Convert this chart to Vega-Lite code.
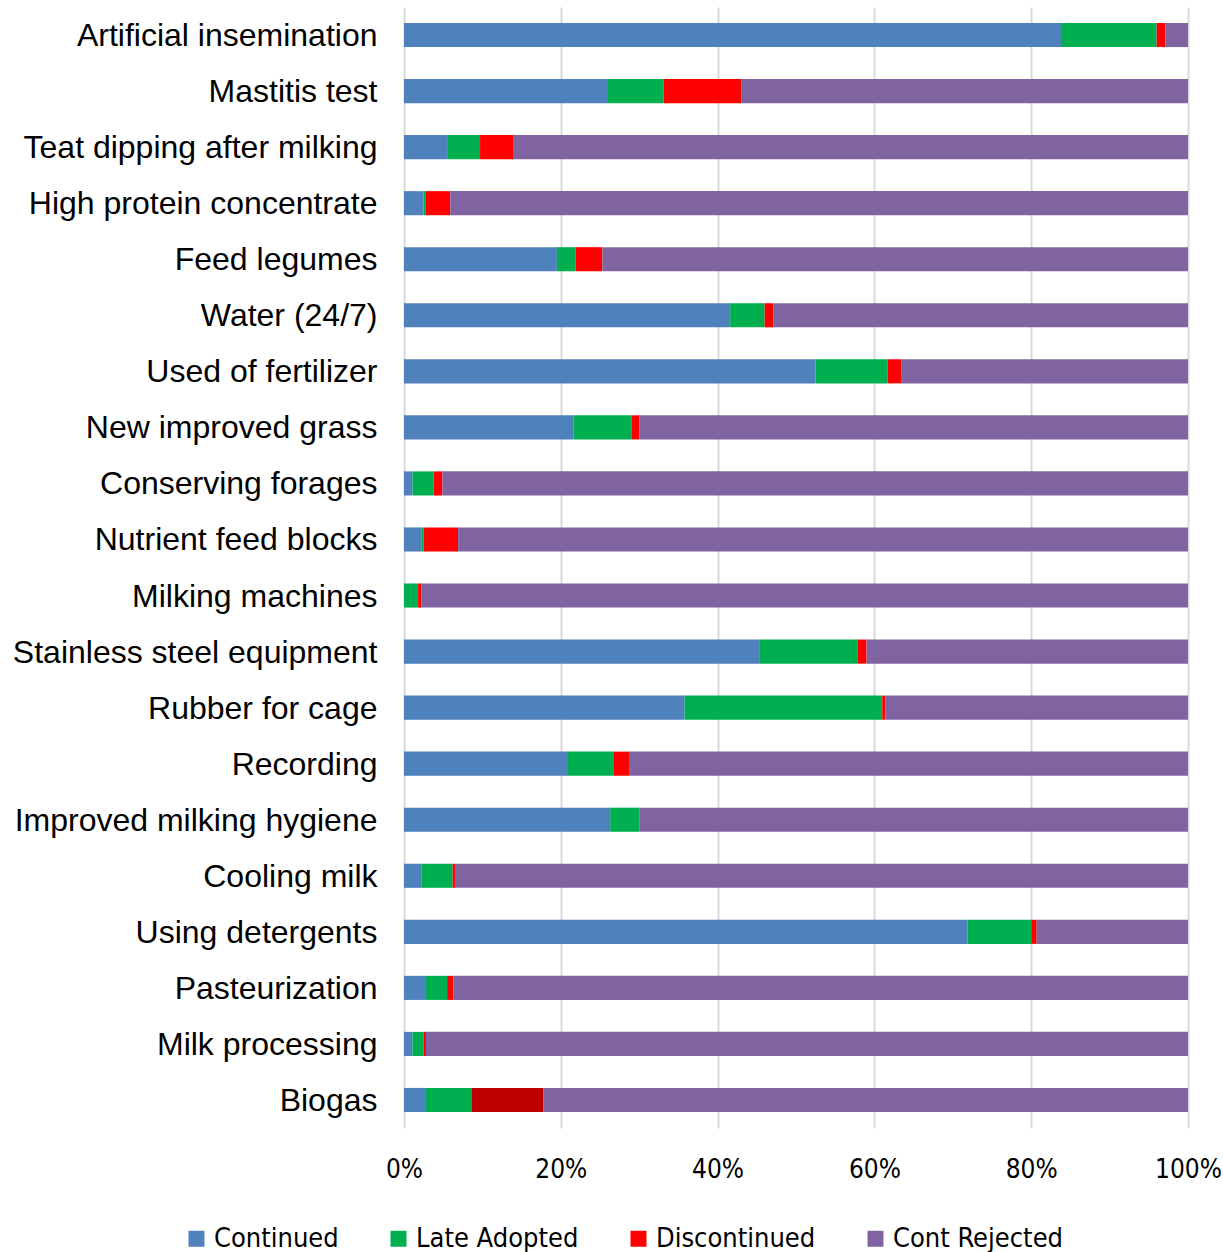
{
  "$schema": "https://vega.github.io/schema/vega-lite/v6.json",
  "width": 784,
  "height": 1121,
  "autosize": {"type": "none"},
  "padding": {"left": 404, "top": 7, "right": 35, "bottom": 124},
  "background": "white",
  "config": {"view": {"stroke": null}},
  "data": {"values": [
    {"item": "Artificial insemination", "Continued": 83.8, "Late Adopted": 12.2, "Discontinued": 1.1, "Cont Rejected": 2.9},
    {"item": "Mastitis test", "Continued": 25.9, "Late Adopted": 7.2, "Discontinued": 9.9, "Cont Rejected": 57.0},
    {"item": "Teat dipping after milking", "Continued": 5.5, "Late Adopted": 4.2, "Discontinued": 4.3, "Cont Rejected": 86.0},
    {"item": "High protein concentrate", "Continued": 2.5, "Late Adopted": 0.3, "Discontinued": 3.1, "Cont Rejected": 94.1},
    {"item": "Feed legumes", "Continued": 19.5, "Late Adopted": 2.4, "Discontinued": 3.4, "Cont Rejected": 74.7},
    {"item": "Water (24/7)", "Continued": 41.6, "Late Adopted": 4.4, "Discontinued": 1.1, "Cont Rejected": 52.9},
    {"item": "Used of fertilizer", "Continued": 52.5, "Late Adopted": 9.2, "Discontinued": 1.7, "Cont Rejected": 36.6},
    {"item": "New improved grass", "Continued": 21.6, "Late Adopted": 7.4, "Discontinued": 1.0, "Cont Rejected": 70.0},
    {"item": "Conserving forages", "Continued": 1.1, "Late Adopted": 2.7, "Discontinued": 1.1, "Cont Rejected": 95.1},
    {"item": "Nutrient feed blocks", "Continued": 2.2, "Late Adopted": 0.3, "Discontinued": 4.4, "Cont Rejected": 93.1},
    {"item": "Milking machines", "Continued": 0.0, "Late Adopted": 1.8, "Discontinued": 0.4, "Cont Rejected": 97.8},
    {"item": "Stainless steel equipment", "Continued": 45.3, "Late Adopted": 12.6, "Discontinued": 1.1, "Cont Rejected": 41.0},
    {"item": "Rubber for cage", "Continued": 35.8, "Late Adopted": 25.2, "Discontinued": 0.4, "Cont Rejected": 38.6},
    {"item": "Recording", "Continued": 20.8, "Late Adopted": 5.9, "Discontinued": 2.0, "Cont Rejected": 71.3},
    {"item": "Improved milking hygiene", "Continued": 26.3, "Late Adopted": 3.7, "Discontinued": 0.0, "Cont Rejected": 70.0},
    {"item": "Cooling milk", "Continued": 2.2, "Late Adopted": 4.0, "Discontinued": 0.3, "Cont Rejected": 93.5},
    {"item": "Using detergents", "Continued": 71.9, "Late Adopted": 8.1, "Discontinued": 0.7, "Cont Rejected": 19.3},
    {"item": "Pasteurization", "Continued": 2.8, "Late Adopted": 2.7, "Discontinued": 0.8, "Cont Rejected": 93.7},
    {"item": "Milk processing", "Continued": 1.1, "Late Adopted": 1.4, "Discontinued": 0.3, "Cont Rejected": 97.2},
    {"item": "Biogas", "Continued": 2.8, "Late Adopted": 5.8, "Discontinued": 9.2, "Cont Rejected": 82.2}
  ]},
  "transform": [
    {"fold": ["Continued", "Late Adopted", "Discontinued", "Cont Rejected"], "as": ["status", "value"]},
    {"calculate": "indexof(['Continued','Late Adopted','Discontinued','Cont Rejected'], datum.status)", "as": "rank"}
  ],
  "mark": {"type": "bar"},
  "encoding": {
    "y": {
      "field": "item", "type": "nominal", "sort": null,
      "scale": {"paddingInner": 0.57, "paddingOuter": 0.285},
      "axis": {
        "title": null, "domain": false, "ticks": false, "grid": false,
        "labelFont": "Liberation Sans", "labelFontSize": 32, "labelColor": "#000000",
        "labelPadding": 27, "labelLimit": 500, "labelOffset": 1
      }
    },
    "x": {
      "field": "value", "type": "quantitative", "stack": "normalize",
      "scale": {"domain": [0, 1], "nice": false},
      "axis": {
        "title": null, "format": "%", "values": [0, 0.2, 0.4, 0.6, 0.8, 1],
        "domain": false, "ticks": false,
        "grid": true, "gridColor": "#D9D9D9", "gridWidth": 2,
        "labelFont": "DejaVu Sans Condensed, sans-serif", "labelFontSize": 26, "labelColor": "#000000",
        "labelPadding": 28, "labelFlush": false
      }
    },
    "color": {
      "condition": {"test": "datum.item === 'Biogas' && datum.status === 'Discontinued'", "value": "#C00000"},
      "field": "status", "type": "nominal",
      "scale": {
        "domain": ["Continued", "Late Adopted", "Discontinued", "Cont Rejected"],
        "range": ["#4F81BD", "#00B050", "#FF0000", "#8064A2"]
      },
      "legend": {
        "title": null, "orient": "none", "direction": "horizontal",
        "legendX": -221, "legendY": 1218,
        "symbolType": "square", "symbolSize": 256, "symbolStrokeWidth": 0,
        "labelFont": "DejaVu Sans Condensed, sans-serif", "labelFontSize": 27, "labelColor": "#000000",
        "labelOffset": 4, "columnPadding": 46, "labelLimit": 300
      }
    },
    "order": {"field": "rank", "type": "quantitative"}
  }
}
